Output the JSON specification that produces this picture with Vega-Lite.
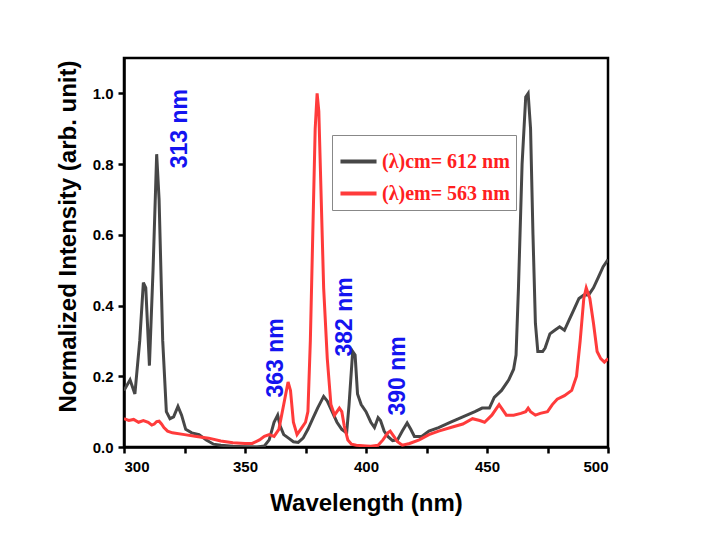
{
  "$schema": "https://vega.github.io/schema/vega-lite/v6.json",
  "width": 484,
  "height": 389,
  "autosize": "none",
  "padding": {"left": 124, "top": 58, "right": 98, "bottom": 91},
  "background": "white",
  "config": {
    "view": {"stroke": "black", "strokeWidth": 2.5},
    "axis": {
      "grid": false,
      "domainColor": "black",
      "domainWidth": 2.5,
      "tickColor": "black",
      "tickWidth": 2.5,
      "tickSize": 6,
      "labelFont": "Liberation Sans",
      "labelFontWeight": "bold",
      "labelFontSize": 15,
      "labelColor": "black",
      "titleFont": "Liberation Sans",
      "titleFontWeight": "bold",
      "titleFontSize": 24,
      "titleColor": "black"
    }
  },
  "datasets": {
    "spectra": [
      {"wl": 300, "v": 0.16, "s": "(λ)cm= 612 nm"},
      {"wl": 302.5, "v": 0.19, "s": "(λ)cm= 612 nm"},
      {"wl": 304.5, "v": 0.15, "s": "(λ)cm= 612 nm"},
      {"wl": 306.5, "v": 0.3, "s": "(λ)cm= 612 nm"},
      {"wl": 308, "v": 0.465, "s": "(λ)cm= 612 nm"},
      {"wl": 309, "v": 0.45, "s": "(λ)cm= 612 nm"},
      {"wl": 310.5, "v": 0.23, "s": "(λ)cm= 612 nm"},
      {"wl": 312, "v": 0.5, "s": "(λ)cm= 612 nm"},
      {"wl": 313.5, "v": 0.828, "s": "(λ)cm= 612 nm"},
      {"wl": 314.5, "v": 0.7, "s": "(λ)cm= 612 nm"},
      {"wl": 316, "v": 0.3, "s": "(λ)cm= 612 nm"},
      {"wl": 317.5, "v": 0.1, "s": "(λ)cm= 612 nm"},
      {"wl": 319, "v": 0.08, "s": "(λ)cm= 612 nm"},
      {"wl": 320.5, "v": 0.085, "s": "(λ)cm= 612 nm"},
      {"wl": 322.3, "v": 0.115, "s": "(λ)cm= 612 nm"},
      {"wl": 323.8, "v": 0.09, "s": "(λ)cm= 612 nm"},
      {"wl": 325.5, "v": 0.05, "s": "(λ)cm= 612 nm"},
      {"wl": 328, "v": 0.04, "s": "(λ)cm= 612 nm"},
      {"wl": 331, "v": 0.035, "s": "(λ)cm= 612 nm"},
      {"wl": 334, "v": 0.02, "s": "(λ)cm= 612 nm"},
      {"wl": 337, "v": 0.008, "s": "(λ)cm= 612 nm"},
      {"wl": 340, "v": 0.005, "s": "(λ)cm= 612 nm"},
      {"wl": 345, "v": 0.002, "s": "(λ)cm= 612 nm"},
      {"wl": 350, "v": 0.001, "s": "(λ)cm= 612 nm"},
      {"wl": 355, "v": 0.0, "s": "(λ)cm= 612 nm"},
      {"wl": 358, "v": 0.003, "s": "(λ)cm= 612 nm"},
      {"wl": 360, "v": 0.02, "s": "(λ)cm= 612 nm"},
      {"wl": 362, "v": 0.07, "s": "(λ)cm= 612 nm"},
      {"wl": 363.5, "v": 0.09, "s": "(λ)cm= 612 nm"},
      {"wl": 364.5, "v": 0.06, "s": "(λ)cm= 612 nm"},
      {"wl": 366, "v": 0.035, "s": "(λ)cm= 612 nm"},
      {"wl": 368, "v": 0.025, "s": "(λ)cm= 612 nm"},
      {"wl": 370, "v": 0.015, "s": "(λ)cm= 612 nm"},
      {"wl": 372, "v": 0.013, "s": "(λ)cm= 612 nm"},
      {"wl": 374, "v": 0.025, "s": "(λ)cm= 612 nm"},
      {"wl": 376, "v": 0.05, "s": "(λ)cm= 612 nm"},
      {"wl": 378, "v": 0.08, "s": "(λ)cm= 612 nm"},
      {"wl": 380, "v": 0.11, "s": "(λ)cm= 612 nm"},
      {"wl": 382.5, "v": 0.143, "s": "(λ)cm= 612 nm"},
      {"wl": 384, "v": 0.13, "s": "(λ)cm= 612 nm"},
      {"wl": 386, "v": 0.1, "s": "(λ)cm= 612 nm"},
      {"wl": 388, "v": 0.07, "s": "(λ)cm= 612 nm"},
      {"wl": 390, "v": 0.05, "s": "(λ)cm= 612 nm"},
      {"wl": 392, "v": 0.04, "s": "(λ)cm= 612 nm"},
      {"wl": 393, "v": 0.12, "s": "(λ)cm= 612 nm"},
      {"wl": 394.5, "v": 0.27, "s": "(λ)cm= 612 nm"},
      {"wl": 395.5, "v": 0.26, "s": "(λ)cm= 612 nm"},
      {"wl": 396.5, "v": 0.15, "s": "(λ)cm= 612 nm"},
      {"wl": 398, "v": 0.12, "s": "(λ)cm= 612 nm"},
      {"wl": 400, "v": 0.1, "s": "(λ)cm= 612 nm"},
      {"wl": 402, "v": 0.07, "s": "(λ)cm= 612 nm"},
      {"wl": 403.5, "v": 0.055, "s": "(λ)cm= 612 nm"},
      {"wl": 405, "v": 0.083, "s": "(λ)cm= 612 nm"},
      {"wl": 406, "v": 0.075, "s": "(λ)cm= 612 nm"},
      {"wl": 407.5, "v": 0.045, "s": "(λ)cm= 612 nm"},
      {"wl": 409, "v": 0.03, "s": "(λ)cm= 612 nm"},
      {"wl": 411, "v": 0.018, "s": "(λ)cm= 612 nm"},
      {"wl": 413, "v": 0.02, "s": "(λ)cm= 612 nm"},
      {"wl": 415, "v": 0.045, "s": "(λ)cm= 612 nm"},
      {"wl": 417, "v": 0.068, "s": "(λ)cm= 612 nm"},
      {"wl": 418.5, "v": 0.05, "s": "(λ)cm= 612 nm"},
      {"wl": 420, "v": 0.03, "s": "(λ)cm= 612 nm"},
      {"wl": 423, "v": 0.03, "s": "(λ)cm= 612 nm"},
      {"wl": 426, "v": 0.045, "s": "(λ)cm= 612 nm"},
      {"wl": 430, "v": 0.055, "s": "(λ)cm= 612 nm"},
      {"wl": 435, "v": 0.07, "s": "(λ)cm= 612 nm"},
      {"wl": 440, "v": 0.085, "s": "(λ)cm= 612 nm"},
      {"wl": 445, "v": 0.1, "s": "(λ)cm= 612 nm"},
      {"wl": 448, "v": 0.11, "s": "(λ)cm= 612 nm"},
      {"wl": 451, "v": 0.11, "s": "(λ)cm= 612 nm"},
      {"wl": 453, "v": 0.14, "s": "(λ)cm= 612 nm"},
      {"wl": 456, "v": 0.16, "s": "(λ)cm= 612 nm"},
      {"wl": 459, "v": 0.19, "s": "(λ)cm= 612 nm"},
      {"wl": 461, "v": 0.22, "s": "(λ)cm= 612 nm"},
      {"wl": 462, "v": 0.26, "s": "(λ)cm= 612 nm"},
      {"wl": 463, "v": 0.45, "s": "(λ)cm= 612 nm"},
      {"wl": 464.5, "v": 0.8, "s": "(λ)cm= 612 nm"},
      {"wl": 466, "v": 0.99, "s": "(λ)cm= 612 nm"},
      {"wl": 467, "v": 1.0, "s": "(λ)cm= 612 nm"},
      {"wl": 468, "v": 0.9, "s": "(λ)cm= 612 nm"},
      {"wl": 469, "v": 0.6, "s": "(λ)cm= 612 nm"},
      {"wl": 470, "v": 0.35, "s": "(λ)cm= 612 nm"},
      {"wl": 471, "v": 0.27, "s": "(λ)cm= 612 nm"},
      {"wl": 473, "v": 0.27, "s": "(λ)cm= 612 nm"},
      {"wl": 474, "v": 0.28, "s": "(λ)cm= 612 nm"},
      {"wl": 476, "v": 0.32, "s": "(λ)cm= 612 nm"},
      {"wl": 478, "v": 0.33, "s": "(λ)cm= 612 nm"},
      {"wl": 480, "v": 0.34, "s": "(λ)cm= 612 nm"},
      {"wl": 482, "v": 0.33, "s": "(λ)cm= 612 nm"},
      {"wl": 484, "v": 0.36, "s": "(λ)cm= 612 nm"},
      {"wl": 486, "v": 0.39, "s": "(λ)cm= 612 nm"},
      {"wl": 488, "v": 0.42, "s": "(λ)cm= 612 nm"},
      {"wl": 490, "v": 0.43, "s": "(λ)cm= 612 nm"},
      {"wl": 492, "v": 0.43, "s": "(λ)cm= 612 nm"},
      {"wl": 494, "v": 0.45, "s": "(λ)cm= 612 nm"},
      {"wl": 496, "v": 0.48, "s": "(λ)cm= 612 nm"},
      {"wl": 498, "v": 0.51, "s": "(λ)cm= 612 nm"},
      {"wl": 500, "v": 0.53, "s": "(λ)cm= 612 nm"},
      {"wl": 300, "v": 0.08, "s": "(λ)em= 563 nm"},
      {"wl": 302, "v": 0.075, "s": "(λ)em= 563 nm"},
      {"wl": 304, "v": 0.078, "s": "(λ)em= 563 nm"},
      {"wl": 306, "v": 0.07, "s": "(λ)em= 563 nm"},
      {"wl": 308, "v": 0.075, "s": "(λ)em= 563 nm"},
      {"wl": 310, "v": 0.07, "s": "(λ)em= 563 nm"},
      {"wl": 311.5, "v": 0.062, "s": "(λ)em= 563 nm"},
      {"wl": 312.5, "v": 0.065, "s": "(λ)em= 563 nm"},
      {"wl": 313.5, "v": 0.072, "s": "(λ)em= 563 nm"},
      {"wl": 314.5, "v": 0.073, "s": "(λ)em= 563 nm"},
      {"wl": 315.5, "v": 0.065, "s": "(λ)em= 563 nm"},
      {"wl": 316.5, "v": 0.055, "s": "(λ)em= 563 nm"},
      {"wl": 318, "v": 0.045, "s": "(λ)em= 563 nm"},
      {"wl": 320, "v": 0.04, "s": "(λ)em= 563 nm"},
      {"wl": 325, "v": 0.035, "s": "(λ)em= 563 nm"},
      {"wl": 330, "v": 0.03, "s": "(λ)em= 563 nm"},
      {"wl": 335, "v": 0.025, "s": "(λ)em= 563 nm"},
      {"wl": 340, "v": 0.017, "s": "(λ)em= 563 nm"},
      {"wl": 345, "v": 0.012, "s": "(λ)em= 563 nm"},
      {"wl": 350, "v": 0.01, "s": "(λ)em= 563 nm"},
      {"wl": 353, "v": 0.01, "s": "(λ)em= 563 nm"},
      {"wl": 356, "v": 0.02, "s": "(λ)em= 563 nm"},
      {"wl": 358, "v": 0.03, "s": "(λ)em= 563 nm"},
      {"wl": 360, "v": 0.035, "s": "(λ)em= 563 nm"},
      {"wl": 362, "v": 0.03, "s": "(λ)em= 563 nm"},
      {"wl": 364, "v": 0.05, "s": "(λ)em= 563 nm"},
      {"wl": 366, "v": 0.12, "s": "(λ)em= 563 nm"},
      {"wl": 367.8, "v": 0.184, "s": "(λ)em= 563 nm"},
      {"wl": 368.8, "v": 0.16, "s": "(λ)em= 563 nm"},
      {"wl": 370, "v": 0.07, "s": "(λ)em= 563 nm"},
      {"wl": 371.5, "v": 0.035, "s": "(λ)em= 563 nm"},
      {"wl": 373, "v": 0.05, "s": "(λ)em= 563 nm"},
      {"wl": 375, "v": 0.07, "s": "(λ)em= 563 nm"},
      {"wl": 376, "v": 0.1, "s": "(λ)em= 563 nm"},
      {"wl": 377, "v": 0.3, "s": "(λ)em= 563 nm"},
      {"wl": 378, "v": 0.6, "s": "(λ)em= 563 nm"},
      {"wl": 379, "v": 0.9, "s": "(λ)em= 563 nm"},
      {"wl": 379.8, "v": 1.0, "s": "(λ)em= 563 nm"},
      {"wl": 380.5, "v": 0.95, "s": "(λ)em= 563 nm"},
      {"wl": 381.5, "v": 0.7, "s": "(λ)em= 563 nm"},
      {"wl": 382.5, "v": 0.45, "s": "(λ)em= 563 nm"},
      {"wl": 384, "v": 0.25, "s": "(λ)em= 563 nm"},
      {"wl": 385.5, "v": 0.12, "s": "(λ)em= 563 nm"},
      {"wl": 387, "v": 0.09, "s": "(λ)em= 563 nm"},
      {"wl": 388, "v": 0.1, "s": "(λ)em= 563 nm"},
      {"wl": 389, "v": 0.11, "s": "(λ)em= 563 nm"},
      {"wl": 390, "v": 0.1, "s": "(λ)em= 563 nm"},
      {"wl": 391, "v": 0.06, "s": "(λ)em= 563 nm"},
      {"wl": 392.5, "v": 0.02, "s": "(λ)em= 563 nm"},
      {"wl": 394, "v": 0.008, "s": "(λ)em= 563 nm"},
      {"wl": 396, "v": 0.005, "s": "(λ)em= 563 nm"},
      {"wl": 400, "v": 0.003, "s": "(λ)em= 563 nm"},
      {"wl": 402, "v": 0.002, "s": "(λ)em= 563 nm"},
      {"wl": 405, "v": 0.005, "s": "(λ)em= 563 nm"},
      {"wl": 407, "v": 0.02, "s": "(λ)em= 563 nm"},
      {"wl": 409, "v": 0.04, "s": "(λ)em= 563 nm"},
      {"wl": 410, "v": 0.045, "s": "(λ)em= 563 nm"},
      {"wl": 411, "v": 0.035, "s": "(λ)em= 563 nm"},
      {"wl": 413, "v": 0.015, "s": "(λ)em= 563 nm"},
      {"wl": 415, "v": 0.005, "s": "(λ)em= 563 nm"},
      {"wl": 418, "v": 0.01, "s": "(λ)em= 563 nm"},
      {"wl": 422, "v": 0.02, "s": "(λ)em= 563 nm"},
      {"wl": 426, "v": 0.035, "s": "(λ)em= 563 nm"},
      {"wl": 430, "v": 0.045, "s": "(λ)em= 563 nm"},
      {"wl": 435, "v": 0.055, "s": "(λ)em= 563 nm"},
      {"wl": 440, "v": 0.065, "s": "(λ)em= 563 nm"},
      {"wl": 444, "v": 0.08, "s": "(λ)em= 563 nm"},
      {"wl": 447, "v": 0.075, "s": "(λ)em= 563 nm"},
      {"wl": 449, "v": 0.07, "s": "(λ)em= 563 nm"},
      {"wl": 452, "v": 0.09, "s": "(λ)em= 563 nm"},
      {"wl": 454, "v": 0.11, "s": "(λ)em= 563 nm"},
      {"wl": 455, "v": 0.12, "s": "(λ)em= 563 nm"},
      {"wl": 456, "v": 0.11, "s": "(λ)em= 563 nm"},
      {"wl": 458, "v": 0.09, "s": "(λ)em= 563 nm"},
      {"wl": 461, "v": 0.09, "s": "(λ)em= 563 nm"},
      {"wl": 464, "v": 0.095, "s": "(λ)em= 563 nm"},
      {"wl": 466, "v": 0.1, "s": "(λ)em= 563 nm"},
      {"wl": 467, "v": 0.11, "s": "(λ)em= 563 nm"},
      {"wl": 468, "v": 0.1, "s": "(λ)em= 563 nm"},
      {"wl": 470, "v": 0.09, "s": "(λ)em= 563 nm"},
      {"wl": 472, "v": 0.095, "s": "(λ)em= 563 nm"},
      {"wl": 475, "v": 0.1, "s": "(λ)em= 563 nm"},
      {"wl": 477, "v": 0.12, "s": "(λ)em= 563 nm"},
      {"wl": 479, "v": 0.135, "s": "(λ)em= 563 nm"},
      {"wl": 482, "v": 0.145, "s": "(λ)em= 563 nm"},
      {"wl": 485, "v": 0.16, "s": "(λ)em= 563 nm"},
      {"wl": 487, "v": 0.2, "s": "(λ)em= 563 nm"},
      {"wl": 488.5, "v": 0.3, "s": "(λ)em= 563 nm"},
      {"wl": 490, "v": 0.42, "s": "(λ)em= 563 nm"},
      {"wl": 491, "v": 0.45, "s": "(λ)em= 563 nm"},
      {"wl": 492.5, "v": 0.42, "s": "(λ)em= 563 nm"},
      {"wl": 494, "v": 0.35, "s": "(λ)em= 563 nm"},
      {"wl": 495.5, "v": 0.27, "s": "(λ)em= 563 nm"},
      {"wl": 497, "v": 0.25, "s": "(λ)em= 563 nm"},
      {"wl": 498.5, "v": 0.24, "s": "(λ)em= 563 nm"},
      {"wl": 500, "v": 0.25, "s": "(λ)em= 563 nm"}
    ],
    "notes": [
      {"label": "313 nm", "wl": 323.1, "v": 0.9},
      {"label": "363 nm", "wl": 362.8, "v": 0.252},
      {"label": "382 nm", "wl": 391.3, "v": 0.368},
      {"label": "390 nm", "wl": 413.2, "v": 0.201}
    ]
  },
  "layer": [
    {
      "data": {"name": "spectra"},
      "mark": {"type": "line", "strokeWidth": 3, "clip": true},
      "encoding": {
        "x": {
          "field": "wl", "type": "quantitative",
          "scale": {"domain": [300, 500], "nice": false, "zero": false},
          "axis": {
            "title": "Wavelength (nm)",
            "values": [300, 325, 350, 375, 400, 425, 450, 475, 500],
            "labelExpr": "datum.value % 50 === 0 ? datum.label : ''",
            "labelPadding": 6,
            "titlePadding": 17
          }
        },
        "y": {
          "field": "v", "type": "quantitative",
          "scale": {"domain": [0, 1.1], "nice": false},
          "axis": {
            "title": "Normalized Intensity (arb. unit)",
            "values": [0, 0.1, 0.2, 0.3, 0.4, 0.5, 0.6, 0.7, 0.8, 0.9, 1.0],
            "labelExpr": "(round(datum.value * 10) % 2 === 0) ? format(datum.value, '.1f') : ''",
            "labelPadding": 5,
            "titlePadding": 12,
            "titleY": 178
          }
        },
        "color": {
          "field": "s", "type": "nominal",
          "scale": {"domain": ["(λ)cm= 612 nm", "(λ)em= 563 nm"], "range": ["#474747", "#ff3b3b"]},
          "legend": {
            "title": null,
            "orient": "none",
            "legendX": 208,
            "legendY": 77,
            "strokeColor": "#888888",
            "fillColor": "white",
            "padding": 6,
            "symbolType": "stroke",
            "symbolSize": 1300,
            "symbolStrokeWidth": 4,
            "labelFont": "Liberation Serif",
            "labelFontWeight": "bold",
            "labelFontSize": 20,
            "labelColor": "#ff2020",
            "labelOffset": 3,
            "rowPadding": 1
          }
        }
      }
    },
    {
      "data": {"name": "notes"},
      "mark": {"type": "text", "angle": 270, "align": "center", "baseline": "middle", "font": "Liberation Sans", "fontWeight": "bold", "fontSize": 23, "color": "#1414f0"},
      "encoding": {
        "x": {"field": "wl", "type": "quantitative"},
        "y": {"field": "v", "type": "quantitative"},
        "text": {"field": "label"}
      }
    }
  ]
}
